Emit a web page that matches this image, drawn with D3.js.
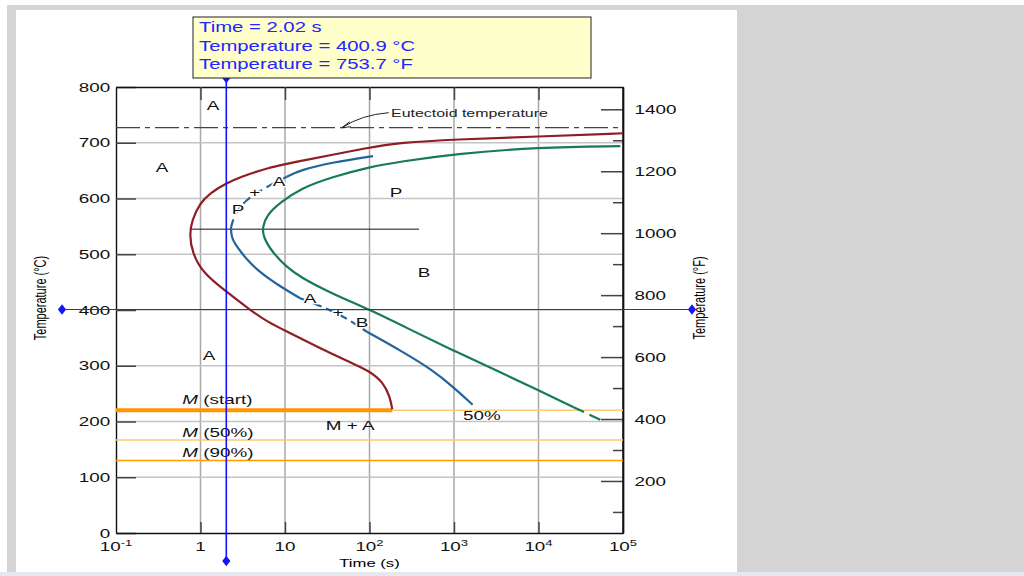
<!DOCTYPE html>
<html>
<head>
<meta charset="utf-8">
<script src="https://cdn.jsdelivr.net/npm/d3@7"></script>
<style>
  body { margin: 0; background: #fff; }
  svg { display: block; font-family: "Liberation Sans", Arial, sans-serif; }
</style>
</head>
<body>
<svg id="chart" width="1024" height="576"></svg>
<script>
// values: [time (s), temperature (°C)]
const startCurve = [[1e5,717],[1e4,711],[1e3,706],[229,700],[102,692],[15.1,667],[6.2,655],
  [2.9,638],[2.0,627],[1.3,610],[0.99,592],[0.79,561],[0.74,535],[0.8,502],[1.07,466],[2.06,432],
  [3.86,400],[6.3,378],[11,360],[24,334],[59,306],[102,290],[145,270],[174,245],[186,222]];

const halfUpper = [[110,676],[37,665],[15.1,651],[10.5,639]];
const halfUpperDash = [[10.5,639],[5.75,619],[3.4,597],[2.57,574],[2.3,549]];
const halfMiddle = [[2.3,549],[2.3,531],[2.7,513],[3.55,490],[5.0,468],[8.2,445],[15.1,421]];
const halfMiddleDash = [[15.1,421],[42,396],[93,361]];
const halfLower = [[93,361],[229,328],[562,292],[977,262],[1660,230]];

const finishCurve = [[93000,694],[1e4,692],[1e3,680],[229,666],[102,657],[37,639],[15.1,618],
  [8.7,592],[6.2,572],[5.4,549],[5.5,531],[7.2,502],[10.5,477],[15.1,459],[34,431],[102,400],
  [302,365],[1020,326],[3470,289],[1e4,256],[25700,226]];
const finishDash = [[25700,226],[61700,199]];

const noseLine = [[0.75,545],[385,545]];
const eutectoidTemp = 727;
const msTemp = 220, m50Temp = 167, m90Temp = 130;
const msEndTime = 186;

const cTicks = [0,100,200,300,400,500,600,700,800];
const fMajor = [200,400,600,800,1000,1200,1400];
const fMinor = [100,300,500,700,900,1100,1300];
const decades = [-1,0,1,2,3,4,5];

const cursorTime = 2.02, cursorC = 400.9, cursorF = 753.7;

// onCurve labels break the 50% curve, as in the picture
const regionLabels = [
  {t:1.41, c:766, s:"A"}, {t:0.35, c:656, s:"A"}, {t:8.5, c:630, s:"A", onCurve:true},
  {t:4.4, c:610, s:"+", onCurve:true}, {t:2.78, c:581, s:"P", onCurve:true}, {t:206, c:610, s:"P"},
  {t:442, c:468, s:"B"}, {t:19.8, c:421, s:"A", onCurve:true}, {t:42.4, c:396, s:"+", onCurve:true},
  {t:81.5, c:377, s:"B", onCurve:true}, {t:1.26, c:319, s:"A"}, {t:59, c:192, s:"M + A"},
  {t:2140, c:210, s:"50%"}
];
const mLabels = [
  {t:0.61, c:240, s:" (start)"}, {t:0.61, c:181, s:" (50%)"}, {t:0.61, c:145, s:" (90%)"}
];

const SX = 1.45; // the picture's text is stretched sideways

const svg = d3.select("#chart");

svg.append("rect").attr("x", 7).attr("y", 5).attr("width", 1017).attr("height", 567).attr("fill", "#d4d4d4");
svg.append("rect").attr("x", 16).attr("y", 10).attr("width", 721).attr("height", 562).attr("fill", "#fff");
svg.append("rect").attr("x", 0).attr("y", 572).attr("width", 1024).attr("height", 4).attr("fill", "#e3e8f1");

const x = d3.scaleLog().domain([0.1, 1e5]).range([116, 623]);
const y = d3.scaleLinear().domain([0, 800]).range([533, 87]);
const yF = d3.scaleLinear().domain([32, 1472]).range([533, 87]);

function stretchedText(px, py, str, size, anchor) {
  return svg.append("g")
    .attr("transform", "translate(" + px + "," + py + ") scale(" + SX + ",1)")
    .append("text")
    .attr("text-anchor", anchor || "middle")
    .attr("font-size", size)
    .text(str);
}

// grid
svg.append("g").selectAll("line")
  .data([1, 10, 100, 1e3, 1e4])
  .join("line")
  .attr("x1", d => x(d)).attr("x2", d => x(d))
  .attr("y1", y(800)).attr("y2", y(0))
  .attr("stroke", "#a9a9a9").attr("stroke-width", 1.5);

svg.append("g").selectAll("line")
  .data(cTicks.slice(1, -1))
  .join("line")
  .attr("x1", x(0.1)).attr("x2", x(1e5))
  .attr("y1", d => y(d)).attr("y2", d => y(d))
  .attr("stroke", "#c4c4c4").attr("stroke-width", 1.5);

// axes
function styleAxis(g) {
  g.select(".domain").attr("stroke", "#111").attr("stroke-width", 1.4);
  g.selectAll(".tick line").attr("stroke", "#444").attr("stroke-width", 1.5);
  g.selectAll("text").attr("font-family", "Liberation Sans, Arial, sans-serif")
    .attr("font-size", 13).attr("fill", "#111")
    .attr("transform", "scale(" + SX + ",1)");
}

svg.append("g").attr("transform", "translate(116,0)")
  .call(d3.axisLeft(y).tickValues(cTicks).tickSize(-20).tickSizeOuter(0).tickPadding(4))
  .call(styleAxis);

svg.append("g").attr("transform", "translate(623,0)")
  .call(d3.axisRight(yF).tickValues(fMinor).tickSize(-10).tickSizeOuter(0).tickFormat(""))
  .call(styleAxis);

svg.append("g").attr("transform", "translate(623,0)")
  .call(d3.axisRight(yF).tickValues(fMajor).tickSize(-22).tickSizeOuter(0).tickPadding(8).tickFormat(d3.format("d")))
  .call(styleAxis);

svg.append("g").attr("transform", "translate(0,87)")
  .call(d3.axisTop(x).tickValues([1, 10, 100, 1e3, 1e4]).tickSize(-13).tickSizeOuter(0).tickFormat(""))
  .call(styleAxis);

svg.append("g").attr("transform", "translate(0,533)")
  .call(d3.axisBottom(x).tickValues([1, 10, 100, 1e3, 1e4]).tickSize(-11).tickSizeOuter(0).tickFormat(""))
  .call(styleAxis);

svg.append("line").attr("x1", 623).attr("x2", 623).attr("y1", 87).attr("y2", 533)
  .attr("stroke", "#111").attr("stroke-width", 1.4);

// x tick labels with superscripts
decades.forEach(function(e) {
  const t = svg.append("g")
    .attr("transform", "translate(" + x(Math.pow(10, e)) + ",551) scale(" + SX + ",1)")
    .append("text").attr("text-anchor", "middle").attr("font-size", 13).attr("fill", "#111");
  if (e === 0) t.text("1");
  else if (e === 1) t.text("10");
  else {
    t.append("tspan").text("10");
    t.append("tspan").attr("font-size", 9).attr("dy", -5).text(e);
  }
});

stretchedText(x(100), 567, "Time (s)", 11.5);

svg.append("g").attr("transform", "translate(46,298) scale(" + SX + ",1) rotate(-90)")
  .append("text").attr("text-anchor", "middle").attr("font-size", 11).text("Temperature (°C)");
svg.append("g").attr("transform", "translate(705,298) scale(" + SX + ",1) rotate(-90)")
  .append("text").attr("text-anchor", "middle").attr("font-size", 11).text("Temperature (°F)");

// eutectoid line
svg.append("line")
  .attr("x1", x(0.1)).attr("x2", x(1e5))
  .attr("y1", y(eutectoidTemp)).attr("y2", y(eutectoidTemp))
  .attr("stroke", "#444").attr("stroke-width", 1.3)
  .attr("stroke-dasharray", "24,5,5,5");

const tipX = x(47), tipY = y(eutectoidTemp);
svg.append("path")
  .attr("d", "M" + (tipX + 47) + "," + (tipY - 15) + " Q" + (tipX + 20) + "," + (tipY - 13) + " " + tipX + "," + tipY)
  .attr("fill", "none").attr("stroke", "#222").attr("stroke-width", 1);
svg.append("path")
  .attr("d", "M" + (tipX + 8) + "," + (tipY - 6) + " L" + tipX + "," + tipY + " L" + (tipX + 9) + "," + (tipY - 1))
  .attr("fill", "none").attr("stroke", "#222").attr("stroke-width", 1);
stretchedText(x(180), y(753) + 4, "Eutectoid temperature", 11, "start").attr("fill", "#222");

// nose line
svg.append("line")
  .attr("x1", x(noseLine[0][0])).attr("x2", x(noseLine[1][0]))
  .attr("y1", y(noseLine[0][1])).attr("y2", y(noseLine[1][1]))
  .attr("stroke", "#111").attr("stroke-width", 1);

// martensite lines
svg.append("line").attr("x1", x(msEndTime)).attr("x2", x(1e5))
  .attr("y1", y(msTemp)).attr("y2", y(msTemp))
  .attr("stroke", "#ffc873").attr("stroke-width", 1.5);
svg.append("line").attr("x1", x(0.1)).attr("x2", x(msEndTime))
  .attr("y1", y(msTemp)).attr("y2", y(msTemp))
  .attr("stroke", "#ff9500").attr("stroke-width", 4);
svg.append("line").attr("x1", x(0.1)).attr("x2", x(1e5))
  .attr("y1", y(m50Temp)).attr("y2", y(m50Temp))
  .attr("stroke", "#ffc873").attr("stroke-width", 1.5);
svg.append("line").attr("x1", x(0.1)).attr("x2", x(1e5))
  .attr("y1", y(m90Temp)).attr("y2", y(m90Temp))
  .attr("stroke", "#ff9a00").attr("stroke-width", 1.5);

// curves
const line = d3.line()
  .x(d => x(d[0]))
  .y(d => y(d[1]))
  .curve(d3.curveBasis);

function drawCurve(data, color, dash) {
  svg.append("path")
    .datum(data)
    .attr("d", line)
    .attr("fill", "none")
    .attr("stroke", color)
    .attr("stroke-width", 2.2)
    .attr("stroke-dasharray", dash || null);
}

drawCurve(startCurve, "#8e1d24");
drawCurve(halfUpper, "#23649a");
drawCurve(halfUpperDash, "#23649a", "9,5");
drawCurve(halfMiddle, "#23649a");
drawCurve(halfMiddleDash, "#23649a", "9,5");
drawCurve(halfLower, "#23649a");
drawCurve(finishCurve, "#187a57");
drawCurve(finishDash, "#187a57", "12,6");

// region labels
regionLabels.forEach(function(d) {
  const t = stretchedText(x(d.t), y(d.c) + 4.5, d.s, 13).attr("fill", "#111");
  if (d.onCurve) {
    t.attr("stroke", "#fff").attr("stroke-width", 2.5).attr("paint-order", "stroke");
  }
});
mLabels.forEach(function(d) {
  const t = stretchedText(x(d.t), y(d.c) + 4.5, "", 13, "start").attr("fill", "#111");
  t.append("tspan").attr("font-style", "italic").text("M");
  t.append("tspan").text(d.s);
});

// cursor
const cx = x(cursorTime), cy = y(cursorC);
svg.append("line").attr("x1", 62).attr("x2", 692).attr("y1", cy).attr("y2", cy)
  .attr("stroke", "#2a2ad0").attr("stroke-width", 1.2);
svg.append("line").attr("x1", cx).attr("x2", cx).attr("y1", 78).attr("y2", 561)
  .attr("stroke", "#1414ff").attr("stroke-width", 1.6);

const diamond = d3.symbol().type(d3.symbolDiamond).size(40);
[[62, cy], [692, cy], [cx, 78], [cx, 561]].forEach(function(p) {
  svg.append("path").attr("d", diamond)
    .attr("transform", "translate(" + p[0] + "," + p[1] + ") scale(1.2,0.9)")
    .attr("fill", "#1414ff");
});

// tooltip
svg.append("rect").attr("x", 193).attr("y", 17).attr("width", 398).attr("height", 61)
  .attr("fill", "#ffffcc").attr("stroke", "#222").attr("stroke-width", 1);
const tipLines = [
  "Time = " + cursorTime.toFixed(2) + " s",
  "Temperature = " + cursorC.toFixed(1) + " °C",
  "Temperature = " + cursorF.toFixed(1) + " °F"
];
tipLines.forEach(function(s, i) {
  stretchedText(199, 32 + i * 18.5, s, 14, "start").attr("fill", "#2424ff");
});
</script>
</body>
</html>
